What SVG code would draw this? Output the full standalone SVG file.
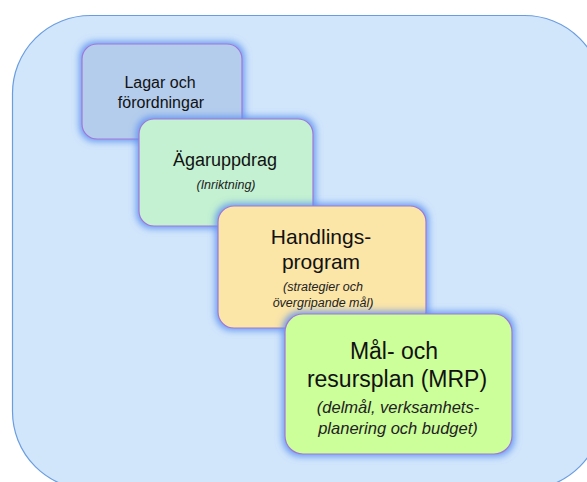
<svg xmlns="http://www.w3.org/2000/svg" width="587" height="482" viewBox="0 0 587 482">
<defs>
<filter id="glow" x="-20%" y="-20%" width="140%" height="140%">
<feMorphology in="SourceAlpha" operator="dilate" radius="2" result="d"/>
<feGaussianBlur in="d" stdDeviation="3.5" result="b"/>
<feFlood flood-color="#5b8ff0" flood-opacity="0.9"/>
<feComposite in2="b" operator="in" result="g"/>
<feMerge><feMergeNode in="g"/><feMergeNode in="SourceGraphic"/></feMerge>
</filter>
</defs>
<style>
.box{stroke:#a078d8;stroke-width:1.2;filter:url(#glow)}
.t{font-family:"Liberation Sans",Arial,sans-serif;fill:#111;text-anchor:middle}
.i{font-style:italic;fill:#222}
</style>
<rect id="background" x="12.5" y="15.5" width="590" height="474" rx="78" ry="78" fill="#d1e6fb" stroke="#6a9de0" stroke-width="1.2"/>
<g id="connectors"></g>
<g id="lagar">
<rect class="box" x="82" y="44" width="160" height="95" rx="15" fill="#b4cdec"/>
<text class="t" x="160" y="88" font-size="16">Lagar och</text>
<text class="t" x="161" y="108" font-size="16">förordningar</text>
</g>
<g id="agaruppdrag">
<rect class="box" x="139" y="119" width="174" height="107" rx="15" fill="#c3f1d1"/>
<text class="t" x="225" y="166" font-size="18">Ägaruppdrag</text>
<text class="t i" x="226" y="189" font-size="12.5">(Inriktning)</text>
</g>
<g id="handlingsprogram">
<rect class="box" x="218" y="206" width="208" height="122" rx="16" fill="#fbe5a7"/>
<text class="t" x="321" y="244" font-size="21">Handlings-</text>
<text class="t" x="321" y="269" font-size="21">program</text>
<text class="t i" x="323" y="291" font-size="12.5">(strategier och</text>
<text class="t i" x="323" y="307" font-size="12.5">övergripande mål)</text>
</g>
<g id="mrp">
<rect class="box" x="285" y="314" width="227" height="140" rx="18" fill="#ccfe9a"/>
<text class="t" x="394" y="359" font-size="23">Mål- och</text>
<text class="t" x="397" y="387" font-size="23">resursplan (MRP)</text>
<text class="t i" x="398" y="413" font-size="16.5">(delmål, verksamhets-</text>
<text class="t i" x="398" y="434" font-size="16.5">planering och budget)</text>
</g>
</svg>
